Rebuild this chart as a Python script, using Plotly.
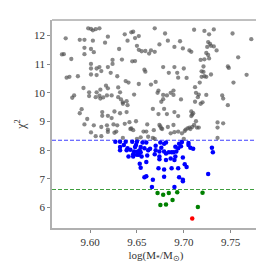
import plotly.graph_objects as go

gray_x = [9.598, 9.601, 9.603, 9.606, 9.610, 9.574, 9.589, 9.594, 9.603, 9.619, 9.616, 9.594, 9.601, 9.631, 9.604, 9.594,
          9.570, 9.572, 9.580, 9.624, 9.634, 9.645, 9.648, 9.637, 9.644, 9.646, 9.640, 9.648, 9.652, 9.650, 9.652, 9.655,
          9.601, 9.601, 9.607, 9.610, 9.619, 9.624, 9.612, 9.622, 9.601, 9.607, 9.629, 9.587, 9.575, 9.578, 9.638, 9.641,
          9.652, 9.593, 9.617, 9.619, 9.630, 9.611, 9.599, 9.607, 9.632, 9.647, 9.583, 9.581, 9.599, 9.606, 9.610, 9.611,
          9.614, 9.618, 9.623, 9.630, 9.633, 9.635, 9.635, 9.639, 9.640, 9.591, 9.589, 9.613, 9.613, 9.619, 9.623, 9.626,
          9.632, 9.639, 9.597, 9.594, 9.604, 9.612, 9.618, 9.619, 9.619, 9.601, 9.625, 9.629, 9.637, 9.642, 9.649, 9.644,
          9.646, 9.606, 9.612, 9.635, 9.650, 9.654, 9.628, 9.626, 9.643, 9.657, 9.662,
          9.669, 9.680, 9.683, 9.690, 9.696, 9.699, 9.706, 9.708, 9.674, 9.659, 9.663, 9.665, 9.669, 9.711, 9.722, 9.727,
          9.732, 9.752, 9.772, 9.726, 9.728, 9.725, 9.729, 9.732, 9.735, 9.724, 9.726, 9.727, 9.722, 9.718, 9.758, 9.658,
          9.659, 9.678, 9.684, 9.690, 9.693, 9.700, 9.721, 9.719, 9.721, 9.722, 9.719, 9.724, 9.729, 9.747, 9.748, 9.767,
          9.753, 9.665, 9.670, 9.694, 9.703, 9.673, 9.672, 9.678, 9.682, 9.686, 9.689, 9.689, 9.678, 9.676, 9.697, 9.712,
          9.717, 9.713, 9.716, 9.715, 9.712, 9.718, 9.720, 9.724, 9.741, 9.742, 9.747, 9.667, 9.673, 9.679, 9.682, 9.690,
          9.694, 9.708, 9.709, 9.708, 9.710, 9.713, 9.711, 9.736, 9.742, 9.661, 9.674, 9.676, 9.683, 9.689, 9.690, 9.660,
          9.668, 9.701, 9.704, 9.706, 9.709, 9.714, 9.716, 9.698, 9.736, 9.686, 9.694, 9.702, 9.707, 9.675, 9.677, 9.700,
          9.667, 9.669, 9.736]
gray_y = [12.25, 12.23, 12.18, 12.22, 12.25, 11.90, 11.85, 11.85, 11.82, 11.96, 11.75, 11.57, 11.53, 11.53, 11.42, 11.35,
          11.34, 11.35, 11.18, 11.15, 11.16, 11.10, 11.11, 12.04, 12.11, 12.13, 11.82, 11.91, 11.98, 11.64, 11.50, 11.45,
          11.01, 10.85, 10.85, 10.90, 10.90, 11.01, 10.76, 10.70, 10.64, 10.62, 10.58, 10.58, 10.53, 10.56, 10.41, 10.36,
          10.31, 10.17, 10.25, 10.16, 10.19, 10.11, 10.02, 10.02, 10.02, 9.94, 9.91, 9.83, 9.89, 9.85, 9.90, 9.80,
          9.84, 9.91, 9.91, 9.85, 9.77, 9.67, 9.62, 9.71, 9.57, 9.43, 9.29, 9.33, 9.20, 9.20, 9.12, 9.35,
          9.29, 9.33, 9.09, 8.90, 8.87, 8.81, 8.87, 8.72, 8.64, 8.62, 8.90, 8.87, 8.92, 8.98, 9.01, 8.76,
          8.70, 8.49, 8.49, 8.43, 8.40, 8.45, 8.65, 8.61, 8.74, 8.65, 8.47,
          12.25, 12.07, 11.82, 11.60, 11.80, 11.55, 11.48, 11.43, 11.69, 11.46, 11.37, 11.48, 11.43, 12.20, 12.16, 12.04,
          12.21, 12.07, 11.87, 11.77, 11.71, 11.60, 11.64, 11.62, 11.48, 11.39, 11.32, 11.20, 11.17, 11.15, 11.24, 10.81,
          10.74, 10.90, 10.70, 10.90, 10.70, 10.85, 10.92, 10.75, 10.73, 10.58, 10.56, 10.56, 10.64, 10.92, 10.87, 10.63,
          10.36, 10.29, 10.38, 10.53, 10.52, 10.08, 10.00, 9.93, 9.91, 10.00, 10.08, 9.93, 9.78, 9.69, 9.77, 10.20,
          10.36, 10.00, 9.94, 9.85, 9.69, 9.62, 9.67, 9.93, 9.91, 9.80, 9.57, 9.44, 9.26, 9.44, 9.26, 9.33,
          9.19, 9.35, 9.24, 9.19, 9.29, 9.01, 8.88, 8.97, 8.94, 8.90, 8.88, 8.76, 8.81, 8.88, 8.63, 8.65,
          8.70, 8.67, 8.76, 8.79, 8.81, 8.79, 8.79, 8.59, 8.79, 8.59, 8.65, 8.72, 8.74, 8.83, 8.74, 8.40,
          8.43, 8.40, 8.43]

blue_x = [9.627, 9.632, 9.632, 9.632, 9.636, 9.638, 9.639, 9.640, 9.641, 9.643, 9.645, 9.646, 9.646, 9.647, 9.648, 9.649,
          9.650, 9.650, 9.651, 9.652, 9.653, 9.654, 9.654, 9.653, 9.654, 9.655,
          9.656, 9.660, 9.658, 9.662, 9.661, 9.660, 9.660, 9.658, 9.667, 9.666, 9.664, 9.670, 9.670, 9.669, 9.674, 9.674,
          9.674, 9.673, 9.675, 9.676, 9.679, 9.679, 9.679, 9.679, 9.681, 9.681, 9.681, 9.684, 9.686, 9.687, 9.687, 9.689,
          9.690, 9.691, 9.692, 9.691, 9.694, 9.694, 9.695, 9.695, 9.697, 9.698, 9.699, 9.699, 9.699, 9.701, 9.703, 9.705,
          9.705, 9.707, 9.710, 9.690, 9.726, 9.730, 9.731]
blue_y = [8.30, 8.30, 8.11, 8.00, 8.18, 8.30, 8.00, 8.07, 7.78, 8.02, 8.30, 7.86, 7.78, 7.96, 8.11, 8.18,
          8.30, 7.84, 7.96, 7.84, 8.00, 8.11, 7.93, 7.53, 7.39, 7.78,
          8.27, 8.27, 8.07, 8.00, 7.82, 7.59, 7.09, 7.06, 6.97, 6.72, 8.05, 8.16, 8.00, 7.86, 7.96, 7.78,
          7.69, 7.37, 8.27, 8.09, 8.23, 7.96, 7.33, 7.08, 7.89, 7.66, 8.27, 7.93, 7.71, 7.93, 7.37, 7.93,
          7.66, 7.78, 7.96, 8.12, 8.07, 7.37, 8.23, 7.06, 8.14, 8.29, 6.92, 7.75, 6.97, 7.51, 7.42, 8.18,
          8.25, 8.09, 8.05, 6.72, 7.17, 8.09, 7.93]

green_x = [9.672, 9.678, 9.684, 9.693, 9.720, 9.675, 9.681, 9.688, 9.715]
green_y = [6.51, 6.45, 6.51, 6.54, 6.52, 6.09, 6.11, 6.27, 6.02]

red_x = [9.709]
red_y = [5.62]

blue_threshold = 8.35
green_threshold = 6.63

x_ticks = [9.60, 9.65, 9.70, 9.75]
y_ticks = [6, 7, 8, 9, 10, 11, 12]

font = "Liberation Serif"
tickfont = dict(family=font, size=11, color="#333")

fig = go.Figure()

x_span = [9.5594, 9.7813]
fig.add_trace(go.Scatter(x=x_span, y=[blue_threshold, blue_threshold], mode="lines",
                         line=dict(color="rgb(0,0,255)", width=1.1, dash="4px,2px"), opacity=0.75,
                         hoverinfo="skip"))
fig.add_trace(go.Scatter(x=x_span, y=[green_threshold, green_threshold], mode="lines",
                         line=dict(color="rgb(0,128,0)", width=1.1, dash="4px,2px"), opacity=0.75,
                         hoverinfo="skip"))

fig.add_trace(go.Scatter(x=gray_x, y=gray_y, mode="markers",
                         marker=dict(size=4.3, color="rgba(80,80,80,0.68)", line=dict(width=0))))
fig.add_trace(go.Scatter(x=blue_x, y=blue_y, mode="markers",
                         marker=dict(size=4.5, color="rgb(0,0,255)", line=dict(width=0))))
fig.add_trace(go.Scatter(x=green_x, y=green_y, mode="markers",
                         marker=dict(size=4.5, color="rgb(0,128,0)", line=dict(width=0))))
fig.add_trace(go.Scatter(x=red_x, y=red_y, mode="markers",
                         marker=dict(size=4.5, color="rgb(255,0,0)", line=dict(width=0))))

# top and right frame
fig.add_shape(type="line", xref="paper", yref="paper", x0=0, x1=1, y0=1, y1=1,
              line=dict(color="#808080", width=1))
fig.add_shape(type="line", xref="paper", yref="paper", x0=1, x1=1, y0=0, y1=1,
              line=dict(color="#808080", width=1))

fig.update_layout(
    width=264, height=264,
    margin=dict(l=39, r=12, t=12, b=37),
    paper_bgcolor="white", plot_bgcolor="white",
    showlegend=False,
    font=dict(family=font, size=11, color="#333"),
    xaxis=dict(range=x_span, tickvals=x_ticks, tickformat=".2f", tickfont=tickfont,
               showgrid=False, zeroline=False, showline=True, linecolor="#b0b0b0", linewidth=1.5,
               ticks="outside", ticklen=3, tickcolor="#888",
               title=dict(text="log(M<sub>*</sub>/M<sub>⊙</sub>)", standoff=4,
                          font=dict(family=font, size=11, color="#333"))),
    yaxis=dict(range=[5.29, 12.54], tickvals=y_ticks, tickfont=tickfont,
               showgrid=False, zeroline=False, showline=True, linecolor="#b0b0b0", linewidth=1.5,
               ticks="outside", ticklen=3, tickcolor="#888",
               title=dict(text="χ<sup>2</sup>", standoff=6,
                          font=dict(family=font, size=12, color="#333"))),
)

fig.write_html("out.html")
